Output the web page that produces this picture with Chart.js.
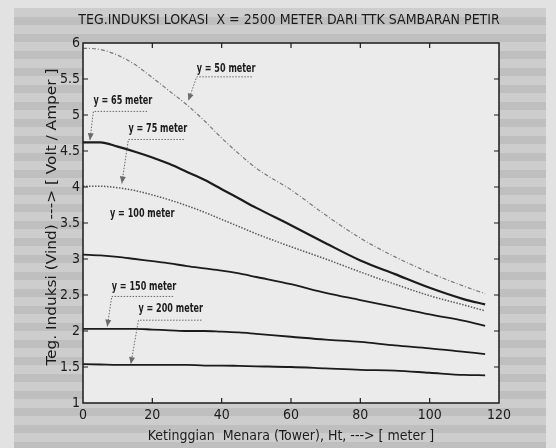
<!DOCTYPE html>
<html>
<head>
<meta charset="utf-8">
<script src="https://cdn.jsdelivr.net/npm/chart.js@4.4.1/dist/chart.umd.min.js"></script>
<style>
  html, body { margin: 0; padding: 0; background: #dedede; }
  #wrap { position: relative; width: 556px; height: 448px; overflow: hidden; background: #e2e2e2; }
  #paper { position: absolute; left: 14px; top: 8px; width: 532px; height: 440px;
    background: repeating-linear-gradient(to bottom, #cdcdcd 0 9px, #bfbfbf 9px 17px); }
  canvas { position: absolute; left: 0; top: 0; }
</style>
</head>
<body>
<div id="wrap"><div id="paper"></div><canvas id="chart" width="556" height="448"></canvas></div>
<script>
// tower height Ht [m]
const heights = [0, 5, 10, 15, 20, 25, 30, 35, 40, 45, 50, 60, 70, 80, 90, 100, 110, 116];
// induced voltage [V/A] for each lateral distance y
const vind50  = [5.93, 5.91, 5.83, 5.70, 5.52, 5.33, 5.14, 4.92, 4.68, 4.46, 4.26, 3.96, 3.61, 3.29, 3.03, 2.81, 2.62, 2.52];
const vind65  = [4.62, 4.62, 4.56, 4.49, 4.41, 4.32, 4.21, 4.10, 3.97, 3.84, 3.71, 3.47, 3.22, 2.98, 2.79, 2.60, 2.44, 2.37];
const vind75  = [4.01, 4.01, 3.99, 3.95, 3.89, 3.82, 3.74, 3.65, 3.55, 3.45, 3.35, 3.17, 3.00, 2.82, 2.65, 2.49, 2.36, 2.28];
const vind100 = [3.06, 3.05, 3.03, 3.00, 2.97, 2.94, 2.90, 2.87, 2.84, 2.80, 2.75, 2.65, 2.53, 2.43, 2.33, 2.23, 2.14, 2.07];
const vind150 = [2.03, 2.03, 2.03, 2.03, 2.02, 2.01, 2.00, 2.00, 1.99, 1.98, 1.96, 1.92, 1.88, 1.85, 1.80, 1.76, 1.71, 1.68];
const vind200 = [1.54, 1.535, 1.53, 1.53, 1.53, 1.53, 1.53, 1.52, 1.52, 1.515, 1.51, 1.50, 1.48, 1.46, 1.45, 1.42, 1.39, 1.385];

const xTicks = [0, 20, 40, 60, 80, 100, 120];
const yTicks = [1, 1.5, 2, 2.5, 3, 3.5, 4, 4.5, 5, 5.5, 6];

const titleText = "TEG.INDUKSI LOKASI  X = 2500 METER DARI TTK SAMBARAN PETIR";
const yLabel = "Teg. Induksi (Vind) ---> [ Volt / Amper ]";
const xLabel = "Ketinggian  Menara (Tower), Ht, ---> [ meter ]";

// gtext-style labels, in data units: text anchor, underline end, arrow tip
const notes = [
  { text: "y = 50 meter",  x: 32.8, y: 5.64, lineY: 5.53, lineEnd: 48.7, tip: [30.4, 5.20] },
  { text: "y = 65 meter",  x: 3.0,  y: 5.19, lineY: 5.05, lineEnd: 18.5, tip: [2.0, 4.65] },
  { text: "y = 75 meter",  x: 13.1, y: 4.80, lineY: 4.66, lineEnd: 29.1, tip: [11.2, 4.05] },
  { text: "y = 100 meter", x: 7.8,  y: 3.63 },
  { text: "y = 150 meter", x: 8.3,  y: 2.61, lineY: 2.48, lineEnd: 26.0, tip: [7.0, 2.06] },
  { text: "y = 200 meter", x: 16.0, y: 2.30, lineY: 2.15, lineEnd: 34.2, tip: [13.8, 1.54] }
];

const FONT = "'Liberation Sans Narrow', 'DejaVu Sans Condensed', sans-serif";
const INK = "#1b1b1b";

const series = (vals, color, width, dash) => ({
  data: heights.map((h, i) => ({ x: h, y: vals[i] })),
  borderColor: color,
  borderWidth: width,
  borderDash: dash,
  pointRadius: 0,
  cubicInterpolationMode: "monotone",
  fill: false
});

const framePlugin = {
  id: "frame",
  beforeDraw(chart) {
    const { ctx, chartArea: a } = chart;
    ctx.save();
    ctx.fillStyle = "#ebebeb";
    ctx.fillRect(a.left, a.top, a.right - a.left, a.bottom - a.top);
    ctx.restore();
  },
  afterDatasetsDraw(chart) {
    const { ctx, chartArea: a, scales: { x, y } } = chart;
    ctx.save();
    ctx.strokeStyle = INK;
    ctx.lineWidth = 1.5;
    ctx.strokeRect(a.left, a.top, a.right - a.left, a.bottom - a.top);
    ctx.lineWidth = 1.2;
    ctx.beginPath();
    xTicks.slice(1, -1).forEach(v => {
      const px = x.getPixelForValue(v);
      ctx.moveTo(px, a.bottom); ctx.lineTo(px, a.bottom - 5);
      ctx.moveTo(px, a.top); ctx.lineTo(px, a.top + 5);
    });
    yTicks.slice(1, -1).forEach(v => {
      const py = y.getPixelForValue(v);
      ctx.moveTo(a.left, py); ctx.lineTo(a.left + 5, py);
      ctx.moveTo(a.right, py); ctx.lineTo(a.right - 5, py);
    });
    ctx.stroke();

    // title and the tall y label
    ctx.fillStyle = INK;
    ctx.textAlign = "center";
    ctx.textBaseline = "middle";
    ctx.font = "14px " + FONT;
    ctx.fillText(titleText, 289, 20);
    ctx.save();
    ctx.translate(52, (a.top + a.bottom) / 2 - 6);
    ctx.rotate(-Math.PI / 2);
    ctx.scale(1.22, 1);
    ctx.fillText(yLabel, 0, 0);
    ctx.restore();

    // labels with dotted leader and arrow
    ctx.textAlign = "left";
    ctx.font = "bold 11.5px " + FONT;
    notes.forEach(n => {
      const tx = x.getPixelForValue(n.x), ty = y.getPixelForValue(n.y);
      ctx.fillStyle = INK;
      ctx.save();
      ctx.translate(tx, ty);
      ctx.scale(0.78, 1);
      ctx.fillText(n.text, 0, 0);
      ctx.restore();
      if (n.lineY === undefined) return;
      const ly = y.getPixelForValue(n.lineY);
      const lx2 = x.getPixelForValue(n.lineEnd);
      const ax = x.getPixelForValue(n.tip[0]), ay = y.getPixelForValue(n.tip[1]);
      ctx.strokeStyle = "#6a6a6a";
      ctx.lineWidth = 1;
      ctx.setLineDash([1.5, 1.5]);
      ctx.beginPath();
      ctx.moveTo(lx2, ly); ctx.lineTo(tx, ly); ctx.lineTo(ax, ay);
      ctx.stroke();
      ctx.setLineDash([]);
      const ang = Math.atan2(ay - ly, ax - tx);
      ctx.fillStyle = "#6a6a6a";
      ctx.beginPath();
      ctx.moveTo(ax, ay);
      ctx.lineTo(ax - 7 * Math.cos(ang) + 3 * Math.sin(ang), ay - 7 * Math.sin(ang) - 3 * Math.cos(ang));
      ctx.lineTo(ax - 7 * Math.cos(ang) - 3 * Math.sin(ang), ay - 7 * Math.sin(ang) + 3 * Math.cos(ang));
      ctx.closePath();
      ctx.fill();
    });
    ctx.restore();
  }
};

new Chart(document.getElementById("chart"), {
  type: "line",
  data: {
    datasets: [
      series(vind50, "#7a7a7a", 1.2, [4, 2, 1, 2]),
      series(vind65, INK, 2.2),
      series(vind75, "#5a5a5a", 1.5, [1.5, 1.5]),
      series(vind100, INK, 1.8),
      series(vind150, INK, 1.8),
      series(vind200, INK, 1.8)
    ]
  },
  options: {
    responsive: false,
    animation: false,
    devicePixelRatio: 1,
    layout: { padding: { left: 40, right: 57, top: 43, bottom: 0 } },
    plugins: {
      legend: { display: false },
      tooltip: { enabled: false },
      title: { display: false }
    },
    scales: {
      x: {
        type: "linear",
        min: 0, max: 120,
        afterFit: s => { s.height = 45; },
        afterBuildTicks: s => { s.ticks = xTicks.map(v => ({ value: v })); },
        grid: { display: false, drawTicks: false },
        border: { display: false },
        ticks: { color: INK, padding: 4, font: { family: FONT, size: 14 }, callback: v => String(v) },
        title: {
          display: true,
          text: xLabel,
          color: INK,
          font: { family: FONT, size: 14 },
          padding: { top: 0, bottom: 3 }
        }
      },
      y: {
        min: 1, max: 6,
        afterFit: s => { s.width = 43; },
        afterBuildTicks: s => { s.ticks = yTicks.map(v => ({ value: v })); },
        grid: { display: false, drawTicks: false },
        border: { display: false },
        ticks: { color: INK, padding: 3, font: { family: FONT, size: 14 }, callback: v => String(v) }
      }
    }
  },
  plugins: [framePlugin]
});
</script>
</body>
</html>
